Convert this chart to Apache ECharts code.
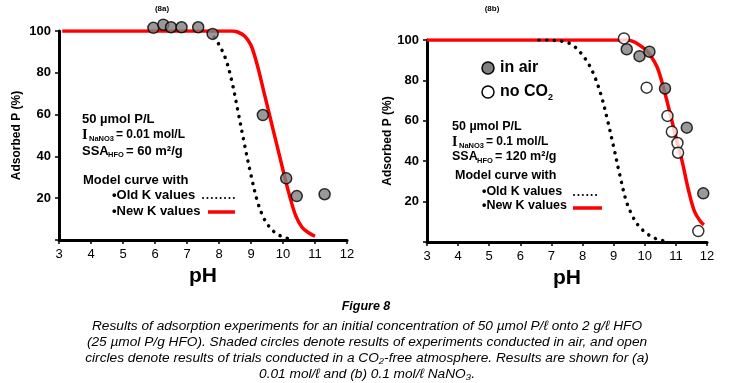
<!DOCTYPE html>
<html><head><meta charset="utf-8">
<script src="https://cdn.jsdelivr.net/npm/echarts@6/dist/echarts.min.js"></script>
<style>html,body{margin:0;padding:0;background:#fff}#c{width:732px;height:383px}</style>
</head><body><div id="c"></div>
<script>
// ---- Panel (8a) ----
const phA_air = [5.95, 6.26, 6.5, 6.83, 7.35, 7.8, 9.37, 10.1, 10.43, 11.3];
const adsA_air = [101.5, 103, 101.8, 101.8, 101.8, 98.6, 59.8, 29.5, 21, 21.9];
const phA_new = [3.1, 8.2, 8.4, 8.6, 8.8, 9.0, 9.2, 9.4, 9.6, 9.8, 10.0, 10.2, 10.4, 10.6, 10.8, 11.0];
const adsA_new = [100, 100, 100, 99.4, 97.6, 93.2, 83.5, 71, 58.5, 46, 33.5, 21.5, 11.5, 6, 3.5, 1.8];
const phA_old = [7.85, 8.0, 8.2, 8.4, 8.6, 8.8, 9.0, 9.2, 9.4, 9.6, 9.8, 10.0, 10.2];
const adsA_old = [97, 93.5, 87, 76, 61, 45.5, 31, 18.5, 10.5, 5.8, 3, 1.5, 0.5];
// ---- Panel (8b) ----
const phB_air = [9.42, 9.83, 10.15, 10.65, 11.35, 11.88];
const adsB_air = [95.4, 92, 94.2, 76, 56.6, 24.1];
const phB_noco2 = [9.33, 10.06, 10.73, 10.87, 11.05, 11.07, 11.72];
const adsB_noco2 = [100.8, 76.4, 62.4, 54.6, 49, 44.2, 5.4];
const phB_new = [3, 9.2, 9.4, 9.6, 9.8, 10.0, 10.2, 10.4, 10.6, 10.8, 11.0, 11.2, 11.4, 11.6, 11.8, 11.9];
const adsB_new = [100, 100, 100, 99.4, 97.8, 95.5, 92, 86.5, 76.5, 64.5, 52, 40, 26, 15, 10, 8.5];
const phB_old = [6.6, 7.0, 7.4, 7.6, 7.8, 8.0, 8.2, 8.4, 8.6, 8.8, 9.0, 9.2, 9.4, 9.6, 9.8, 10.0, 10.2, 10.4, 10.6, 10.7];
const adsB_old = [100, 99.9, 99.2, 98.2, 96, 92.5, 88, 81.5, 72.5, 60.5, 47, 33, 20.5, 13, 8, 5, 2.8, 1.4, 0.6, 0.3];

const yTicks = [20, 40, 60, 80, 100];
const zip = (a, b) => a.map((v, i) => [v, b[i]]);

const F = 'Liberation Sans, Arial, sans-serif';
function xAx(idx, gap) {
  return {gridIndex: idx, type: 'value', min: 3, max: 12, interval: 1,
    axisLine: {lineStyle: {color: '#000', width: 3}},
    axisTick: {show: true, length: 4, lineStyle: {color: '#000', width: 1.5}},
    axisLabel: {color: '#000', fontSize: 13, fontFamily: F, margin: 8},
    splitLine: {show: false},
    name: 'pH', nameLocation: 'middle', nameGap: gap,
    nameTextStyle: {fontSize: 21, fontWeight: 'bold', color: '#000', fontFamily: F}};
}
function yAx(idx, gap) {
  return {gridIndex: idx, type: 'value', min: 0, max: 100, interval: 20,
    axisLine: {show: true, lineStyle: {color: '#000', width: 3}},
    axisTick: {show: true, length: 4, lineStyle: {color: '#000', width: 1.5}},
    axisLabel: {color: '#000', fontSize: 13, fontWeight: 'bold', fontFamily: F, margin: 8,
      formatter: v => yTicks.includes(v) ? String(v) : ''},
    splitLine: {show: false},
    name: 'Adsorbed P (%)', nameLocation: 'middle', nameGap: gap, nameRotate: 90,
    nameTextStyle: {fontSize: 12, fontWeight: 'bold', color: '#000', fontFamily: F}};
}
const redLine = {color: '#ff0000', width: 3.5};
const dotLine = {color: '#000', width: 3.5, type: [0.1, 7.5], cap: 'round'};
const filled = {color: '#808080', borderColor: '#000', borderWidth: 1.5};
const open = {color: '#fff', borderColor: '#000', borderWidth: 1.5};

function t(x, y, text, size, extra) {
  return {type: 'text', x: x, y: y, style: Object.assign({text: text, fontSize: size || 13, fontWeight: 'bold', fontFamily: F, fill: '#000', verticalAlign: 'middle'}, extra || {})};
}
function subLine(x, y, main, serif, mainSize, sub, subX, rest, restX, restSize) {
  return [
    t(x, y, main, mainSize, serif ? {fontFamily: 'Liberation Serif, serif', fontSize: mainSize + 1.5} : {}),
    t(x + subX, y + 4, sub, 7.5),
    t(x + restX, y, rest, restSize)
  ];
}

const chart = echarts.init(document.getElementById('c'), null, {renderer: 'canvas'});
chart.setOption({
  animation: false,
  grid: [
    {left: 59, right: 385, top: 31, bottom: 143},
    {left: 427, right: 25, top: 40, bottom: 141}
  ],
  xAxis: [xAx(0, 24), xAx(1, 22)],
  yAxis: [yAx(0, 36), yAx(1, 33)],
  series: [
    {type: 'line', xAxisIndex: 0, yAxisIndex: 0, data: zip(phA_new, adsA_new), showSymbol: false, smooth: 0.35, lineStyle: redLine, z: 2},
    {type: 'line', xAxisIndex: 0, yAxisIndex: 0, data: zip(phA_old, adsA_old), showSymbol: false, smooth: 0.35, lineStyle: dotLine, z: 3},
    {type: 'scatter', xAxisIndex: 0, yAxisIndex: 0, data: zip(phA_air, adsA_air), symbolSize: 11, itemStyle: filled, clip: false, z: 5},
    {type: 'line', xAxisIndex: 1, yAxisIndex: 1, data: zip(phB_new, adsB_new), showSymbol: false, smooth: 0.35, lineStyle: redLine, z: 2},
    {type: 'line', xAxisIndex: 1, yAxisIndex: 1, data: zip(phB_old, adsB_old), showSymbol: false, smooth: 0.35, lineStyle: dotLine, z: 3},
    {type: 'scatter', xAxisIndex: 1, yAxisIndex: 1, data: zip(phB_air, adsB_air), symbolSize: 11, itemStyle: filled, clip: false, z: 5},
    {type: 'scatter', xAxisIndex: 1, yAxisIndex: 1, data: zip(phB_noco2, adsB_noco2), symbolSize: 11, itemStyle: open, clip: false, z: 5}
  ],
  graphic: [
    {type: 'text', x: 162, y: 9, style: {text: '(8a)', fontSize: 8, fontWeight: 'bold', fontFamily: F, fill: '#000', align: 'center', verticalAlign: 'middle'}},
    {type: 'text', x: 492, y: 9, style: {text: '(8b)', fontSize: 8, fontWeight: 'bold', fontFamily: F, fill: '#000', align: 'center', verticalAlign: 'middle'}},
    // panel a annotations
    t(82, 119, '50 µmol P/L'),
    ...subLine(82, 135, 'I', true, 13, 'NaNO3', 7, '= 0.01 mol/L', 34, 12),
    ...subLine(82, 151, 'SSA', false, 13, 'HFO', 26, '= 60 m²/g', 44, 13),
    t(83, 180, 'Model curve with'),
    t(112, 195, '•Old K values'),
    {type: 'line', shape: {x1: 203, y1: 198, x2: 234, y2: 198}, style: {stroke: '#000', lineWidth: 2, lineDash: [0.1, 4.3], lineCap: 'round'}},
    t(112, 211, '•New K values'),
    {type: 'line', shape: {x1: 208, y1: 212, x2: 235, y2: 212}, style: {stroke: '#ff0000', lineWidth: 3.5}},
    // panel b annotations
    {type: 'circle', shape: {cx: 488, cy: 68, r: 6}, style: {fill: '#808080', stroke: '#000', lineWidth: 1.5}},
    t(500, 68, 'in air', 16),
    {type: 'circle', shape: {cx: 488, cy: 92, r: 6}, style: {fill: '#fff', stroke: '#000', lineWidth: 1.5}},
    t(500, 92, 'no CO', 16),
    t(548, 98, '2', 9),
    t(452, 127, '50 µmol P/L', 12.5),
    ...subLine(452, 142, 'I', true, 12.5, 'NaNO3', 7, '= 0.1 mol/L', 34, 12),
    ...subLine(452, 157, 'SSA', false, 12.5, 'HFO', 25, '= 120 m²/g', 43, 12.5),
    t(455, 176, 'Model curve with', 12.5),
    t(482, 192, '•Old K values', 12.5),
    {type: 'line', shape: {x1: 574, y1: 195, x2: 600, y2: 195}, style: {stroke: '#000', lineWidth: 2, lineDash: [0.1, 4.3], lineCap: 'round'}},
    t(482, 206, '•New K values', 12.5),
    {type: 'line', shape: {x1: 573, y1: 208, x2: 602, y2: 208}, style: {stroke: '#ff0000', lineWidth: 3.5}},
    // caption
    {type: 'text', x: 366, y: 307, style: {text: 'Figure 8', fontSize: 12.5, fontWeight: 'bold', fontStyle: 'italic', fontFamily: F, fill: '#000', align: 'center', verticalAlign: 'middle'}},
    {type: 'text', x: 367, y: 350, style: {
      text: 'Results of adsorption experiments for an initial concentration of 50 µmol P/ℓ onto 2 g/ℓ HFO\n(25 µmol P/g HFO). Shaded circles denote results of experiments conducted in air, and open\ncircles denote results of trials conducted in a CO₂-free atmosphere. Results are shown for (a)\n0.01 mol/ℓ and (b) 0.1 mol/ℓ NaNO₃.',
      fontSize: 13.7, fontStyle: 'italic', lineHeight: 16, fontFamily: F, fill: '#000', align: 'center', verticalAlign: 'middle'}}
  ]
});
</script></body></html>
